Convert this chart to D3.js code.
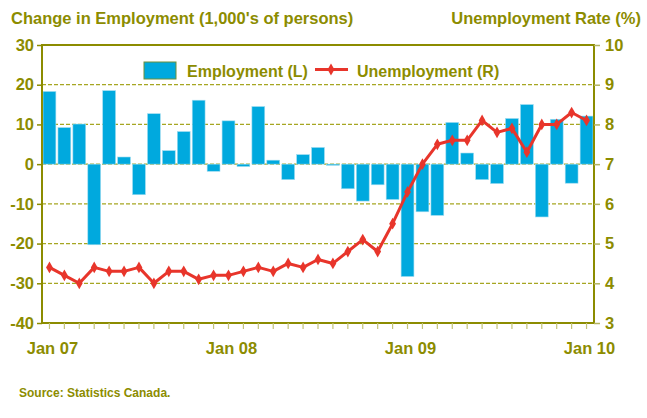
<!DOCTYPE html>
<html>
<head>
<meta charset="utf-8">
<script src="https://cdn.jsdelivr.net/npm/d3@7"></script>
<style>
  body { margin: 0; background: #fff; }
  text { font-family: "Liberation Sans", Arial, sans-serif; font-weight: bold; }
</style>
</head>
<body>
<script>
(function(){
  var width = 647;
  var height = 418;

  var months = d3.range(37);
  var monthLabels = {0: "Jan 07", 12: "Jan 08", 24: "Jan 09", 36: "Jan 10"};

  // change in employment, thousands (left axis)
  var employment = [18.3, 9.2, 10.1, -20.3, 18.5, 1.8, -7.7, 12.7, 3.4, 8.2,
    16.1, -1.8, 10.9, -0.6, 14.5, 1.0, -3.9, 2.4, 4.2, -0.3,
    -6.2, -9.3, -5.2, -8.9, -28.3, -12.0, -12.9, 10.5, 2.8, -3.9,
    -4.9, 11.5, 15.0, -13.3, 11.3, -4.8, 12.1];

  // unemployment rate, % (right axis)
  var unemployment = [4.4, 4.2, 4.0, 4.4, 4.3, 4.3, 4.4, 4.0, 4.3, 4.3,
    4.1, 4.2, 4.2, 4.3, 4.4, 4.3, 4.5, 4.4, 4.6, 4.5,
    4.8, 5.1, 4.8, 5.5, 6.3, 7.0, 7.5, 7.6, 7.6, 8.1,
    7.8, 7.9, 7.3, 8.0, 8.0, 8.3, 8.1];

  var leftTicks = [30, 20, 10, 0, -10, -20, -30, -40];
  var rightTicks = [10, 9, 8, 7, 6, 5, 4, 3];

  var olive = "#8c8c00";
  var barColor = "#00a9de";
  var lineColor = "#e8352b";

  var plot = { left: 42, right: 594, top: 45, bottom: 323 };

  var svg = d3.select("body").append("svg")
    .attr("width", width)
    .attr("height", height);

  var x = d3.scaleBand().domain(months)
    .range([plot.left, plot.right])
    .paddingInner(0.14).paddingOuter(0.07);

  var yL = d3.scaleLinear().domain([-40, 30]).range([plot.bottom, plot.top]);
  var yR = d3.scaleLinear().domain([3, 10]).range([plot.bottom, plot.top]);

  // dashed grid
  svg.append("g").selectAll("line")
    .data(leftTicks.filter(d => d !== 30 && d !== -40))
    .join("line")
      .attr("x1", plot.left).attr("x2", plot.right)
      .attr("y1", d => yL(d)).attr("y2", d => yL(d))
      .attr("stroke", "#a6a622")
      .attr("stroke-width", 1.2)
      .attr("stroke-dasharray", "4,2");

  // bars
  svg.append("g").selectAll("rect")
    .data(employment)
    .join("rect")
      .attr("x", (d, i) => x(i))
      .attr("width", x.bandwidth())
      .attr("y", d => yL(Math.max(0, d)))
      .attr("height", d => Math.abs(yL(d) - yL(0)))
      .attr("fill", barColor)
      .attr("stroke", "#9fdcf0")
      .attr("stroke-width", 0.6);

  // frame
  svg.append("rect")
    .attr("x", plot.left).attr("y", plot.top)
    .attr("width", plot.right - plot.left)
    .attr("height", plot.bottom - plot.top)
    .attr("fill", "none")
    .attr("stroke", olive)
    .attr("stroke-width", 2);

  // left axis
  var leftAxis = d3.axisLeft(yL).tickValues(leftTicks).tickSize(5).tickPadding(3)
    .tickFormat(d => String(d));
  var gl = svg.append("g")
    .attr("transform", "translate(" + plot.left + ",0)")
    .call(leftAxis);

  // right axis
  var rightAxis = d3.axisRight(yR).tickValues(rightTicks).tickSize(6).tickPadding(5)
    .tickFormat(d => String(d));
  var gr = svg.append("g")
    .attr("transform", "translate(" + plot.right + ",0)")
    .call(rightAxis);

  // bottom axis
  var bottomAxis = d3.axisBottom(x).tickSize(6).tickPadding(13)
    .tickFormat(d => monthLabels[d] || "");
  var gb = svg.append("g")
    .attr("transform", "translate(0," + plot.bottom + ")")
    .call(bottomAxis);

  [gl, gr, gb].forEach(g => {
    g.select(".domain").remove();
    g.selectAll("text")
      .attr("fill", olive)
      .style("font-size", "16.5px")
      .style("font-weight", "bold");
  });
  gl.selectAll(".tick line").attr("stroke", olive).attr("stroke-width", 1.5);
  gr.selectAll(".tick line").attr("stroke", "#b3b360").attr("stroke-width", 1.5);
  gb.selectAll(".tick line").attr("stroke", "#c2c27a").attr("stroke-width", 1.2);
  gb.selectAll(".tick text").attr("dx", 3);

  // unemployment line
  var line = d3.line()
    .x((d, i) => x(i) + x.bandwidth() / 2)
    .y(d => yR(d));

  svg.append("path")
    .datum(unemployment)
    .attr("d", line)
    .attr("fill", "none")
    .attr("stroke", lineColor)
    .attr("stroke-width", 3)
    .attr("stroke-linejoin", "round");

  var diamond = d3.symbol().type(d3.symbolDiamond).size(40);
  svg.append("g").selectAll("path")
    .data(unemployment)
    .join("path")
      .attr("d", diamond)
      .attr("transform", (d, i) => "translate(" + (x(i) + x.bandwidth() / 2) + "," + yR(d) + ")")
      .attr("fill", lineColor);

  // legend
  var legend = svg.append("g");
  legend.append("rect")
    .attr("x", 144).attr("y", 62)
    .attr("width", 32).attr("height", 17)
    .attr("fill", barColor)
    .attr("stroke", "#6f8f3a")
    .attr("stroke-width", 1);
  legend.append("text")
    .attr("x", 187).attr("y", 77)
    .attr("fill", olive)
    .style("font-size", "16px")
    .text("Employment (L)");
  legend.append("line")
    .attr("x1", 315).attr("x2", 348)
    .attr("y1", 69.5).attr("y2", 69.5)
    .attr("stroke", lineColor)
    .attr("stroke-width", 3);
  legend.append("path")
    .attr("d", diamond)
    .attr("transform", "translate(331,69.5)")
    .attr("fill", lineColor);
  legend.append("text")
    .attr("x", 357).attr("y", 77)
    .attr("fill", olive)
    .style("font-size", "16px")
    .text("Unemployment (R)");

  // titles
  svg.append("text")
    .attr("x", 11).attr("y", 24)
    .attr("fill", olive)
    .style("font-size", "16.5px")
    .text("Change in Employment (1,000's of persons)");
  svg.append("text")
    .attr("x", 641).attr("y", 24)
    .attr("text-anchor", "end")
    .attr("fill", olive)
    .style("font-size", "16.5px")
    .text("Unemployment Rate (%)");

  svg.append("text")
    .attr("x", 19).attr("y", 397)
    .attr("fill", olive)
    .style("font-size", "12px")
    .text("Source: Statistics Canada.");
})();
</script>
</body>
</html>
